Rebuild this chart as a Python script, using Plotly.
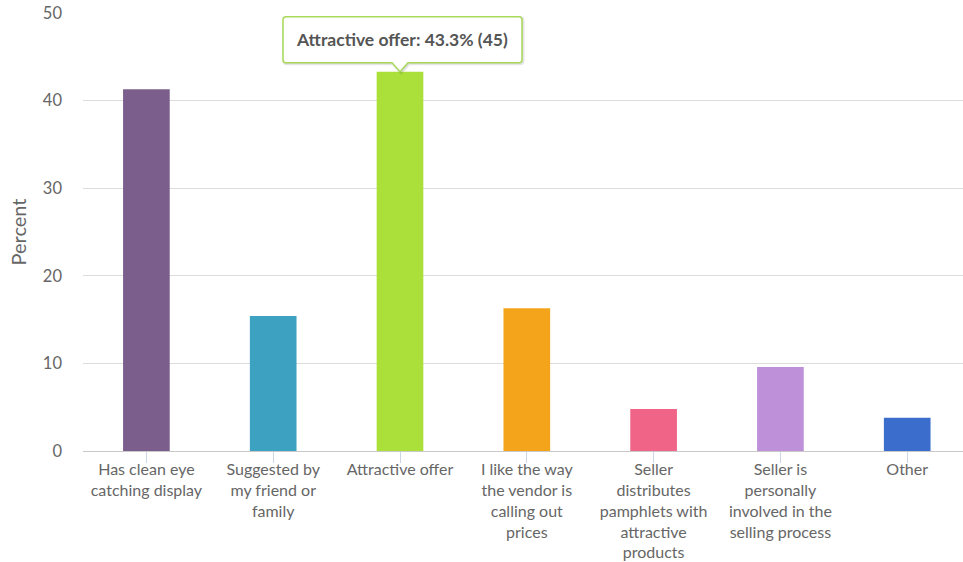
import plotly.graph_objects as go

categories = [
    "Has clean eye<br>catching display",
    "Suggested by<br>my friend or<br>family",
    "Attractive offer",
    "I like the way<br>the vendor is<br>calling out<br>prices",
    "Seller<br>distributes<br>pamphlets with<br>attractive<br>products",
    "Seller is<br>personally<br>involved in the<br>selling process",
    "Other",
]
percent = [41.3, 15.4, 43.3, 16.3, 4.8, 9.6, 3.8]
counts = [43, 16, 45, 17, 5, 10, 4]
colors = ["#7b5e8c", "#3da2c2", "#abe03b", "#f4a41b", "#f06487", "#be90da", "#3b6dcc"]
y_ticks = [0, 10, 20, 30, 40, 50]

hl = 2  # highlighted (tooltip) category index
FONT = "Lato, 'Open Sans', sans-serif"

fig = go.Figure()
fig.add_trace(go.Bar(
    x=list(range(len(categories))),
    y=percent,
    marker=dict(color=colors, line=dict(width=0)),
    hoverinfo="skip",
))

# tooltip callout drawn as a pixel-sized path anchored at the bar top
box = ("M 0 0 L 8 9 L 119 9 Q 122 9 122 12 L 122 52 Q 122 55 119 55 "
       "L -114 55 Q -117 55 -117 52 L -117 12 Q -117 9 -114 9 L -8 9 Z")
shadow = ("M 1 -1 L 9 8 L 120 8 Q 123 8 123 11 L 123 51 Q 123 54 120 54 "
          "L -113 54 Q -116 54 -116 51 L -116 11 Q -116 8 -113 8 L -7 8 Z")
fig.add_shape(type="path", path=shadow, xref="x", yref="y",
              xsizemode="pixel", ysizemode="pixel", xanchor=hl, yanchor=percent[hl],
              fillcolor="rgba(0,0,0,0.06)", line=dict(color="rgba(0,0,0,0.10)", width=3),
              layer="above")
fig.add_shape(type="path", path=box, xref="x", yref="y",
              xsizemode="pixel", ysizemode="pixel", xanchor=hl, yanchor=percent[hl],
              fillcolor="rgba(255,255,255,0.97)", line=dict(color="#a8d95a", width=1.5),
              layer="above")
fig.add_annotation(
    x=hl, y=percent[hl], xref="x", yref="y",
    text=f"<b>{categories[hl]}: {percent[hl]:.1f}% ({counts[hl]})</b>",
    showarrow=False, yshift=32, xshift=2,
    font=dict(family=FONT, size=17.5, color="#555555"),
)

fig.update_layout(
    width=963, height=562,
    margin=dict(l=83, r=0, t=13, b=111),
    paper_bgcolor="white", plot_bgcolor="white",
    bargap=0.632,
    showlegend=False,
    font=dict(family=FONT, size=16, color="#666666"),
    xaxis=dict(
        tickmode="array",
        tickvals=list(range(len(categories))),
        ticktext=categories,
        range=[-0.5, 6.44],
        showline=True, linecolor="#c9c9c9", linewidth=1,
        ticks="outside", tickson="boundaries", ticklen=11, tickcolor="#ccd6eb",
        ticklabelstandoff=-7,
        showgrid=False, zeroline=False,
        tickfont=dict(family=FONT, size=16, color="#666666"),
        automargin=False,
        fixedrange=True,
    ),
    yaxis=dict(
        range=[0, 50],
        tickvals=y_ticks,
        showgrid=True, gridcolor="#dcdcdc", gridwidth=1,
        zeroline=False, showline=False,
        ticks="", ticklabelstandoff=20,
        tickfont=dict(family=FONT, size=16.5, color="#666666"),
        title=dict(text="Percent", font=dict(family=FONT, size=20, color="#666666"), standoff=10),
        automargin=False,
        fixedrange=True,
    ),
)

fig.write_html("out.html")
